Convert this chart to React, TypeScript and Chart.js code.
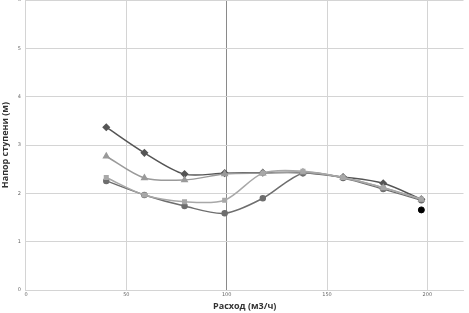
import React, { useEffect, useRef } from "react";
import { Chart, registerables } from "chart.js";

Chart.register(...registerables);

const xValues = [40, 59, 79, 99, 118, 138, 158, 178, 197];
const seriesA = [3.37, 2.84, 2.4, 2.42, 2.43, 2.43, 2.34, 2.21, 1.88];
const seriesB = [2.77, 2.32, 2.28, 2.4, 2.42, 2.44, 2.33, 2.12, 1.88];
const seriesC = [2.33, 1.97, 1.83, 1.86, 2.42, 2.46, 2.33, 2.12, 1.88];
const seriesD = [2.26, 1.97, 1.74, 1.59, 1.9, 2.42, 2.32, 2.09, 1.86];
const extraPoint = { x: 197, y: 1.66 };
const xTicks = [0, 50, 100, 150, 200];
const yTicks = [0, 1, 2, 3, 4, 5, 6];

const toPts = (ys: number[]) => ys.map((y, i) => ({ x: xValues[i], y }));

export default function App() {
  const ref = useRef<HTMLCanvasElement>(null);
  useEffect(() => {
    if (!ref.current) return;
    const mk = (label: string, data: number[], color: string, style: any, r: number) => ({
      type: "line" as const,
      label,
      data: toPts(data),
      borderColor: color,
      backgroundColor: color,
      borderWidth: 1.5,
      pointStyle: style,
      pointRadius: r,
      tension: 0.3,
      showLine: true,
    });
    const chart = new Chart(ref.current, {
      type: "scatter",
      data: {
        datasets: [
          mk("C", seriesC, "#a8a8a8", "rect", 2.5),
          mk("B", seriesB, "#9a9a9a", "triangle", 3),
          mk("D", seriesD, "#6e6e6e", "circle", 2.5),
          mk("A", seriesA, "#555555", "rectRot", 3),
          {
            type: "scatter" as const,
            label: "E",
            data: [extraPoint],
            backgroundColor: "#000000",
            borderColor: "#000000",
            pointRadius: 3,
            showLine: false,
          },
        ] as any,
      },
      options: {
        responsive: false,
        animation: false,
        layout: { padding: { left: 0, right: 0, top: 0, bottom: 0 } },
        plugins: { legend: { display: false }, tooltip: { enabled: false } },
        scales: {
          x: {
            type: "linear",
            min: 0,
            max: 218,
            afterBuildTicks: (axis: any) => {
              axis.ticks = xTicks.map((v) => ({ value: v }));
            },
            ticks: { font: { size: 5, family: "DejaVu Sans" }, color: "#666", padding: 2, maxRotation: 0 },
            grid: {
              color: (ctx: any) => (ctx.tick && ctx.tick.value === 100 ? "#8a8a8a" : "#d4d4d4"),
              lineWidth: 1,
              drawTicks: false,
            },
            border: { color: "#d4d4d4" },
            title: {
              display: true,
              text: "Расход (м3/ч)",
              font: { size: 9, weight: "bold", family: "Open Sans" },
              color: "#333",
              padding: { top: 1, bottom: 0 },
            },
          },
          y: {
            type: "linear",
            min: 0,
            max: 6,
            afterBuildTicks: (axis: any) => {
              axis.ticks = yTicks.map((v) => ({ value: v }));
            },
            ticks: { font: { size: 5, family: "DejaVu Sans" }, color: "#666", padding: 5 },
            grid: { color: "#d4d4d4", drawTicks: false },
            border: { color: "#d4d4d4" },
            title: {
              display: true,
              text: "Напор ступени (м)",
              font: { size: 9, weight: "bold", family: "Open Sans" },
              color: "#333",
              padding: { top: 0, bottom: 2 },
            },
          },
        },
      },
    });
    return () => chart.destroy();
  }, []);
  return (
    <div style={{ position: "fixed", left: 0, top: -8, width: 469, height: 320, background: "#fff" }}>
      <canvas ref={ref} width={469} height={320} style={{ width: 469, height: 320 }} />
    </div>
  );
}
